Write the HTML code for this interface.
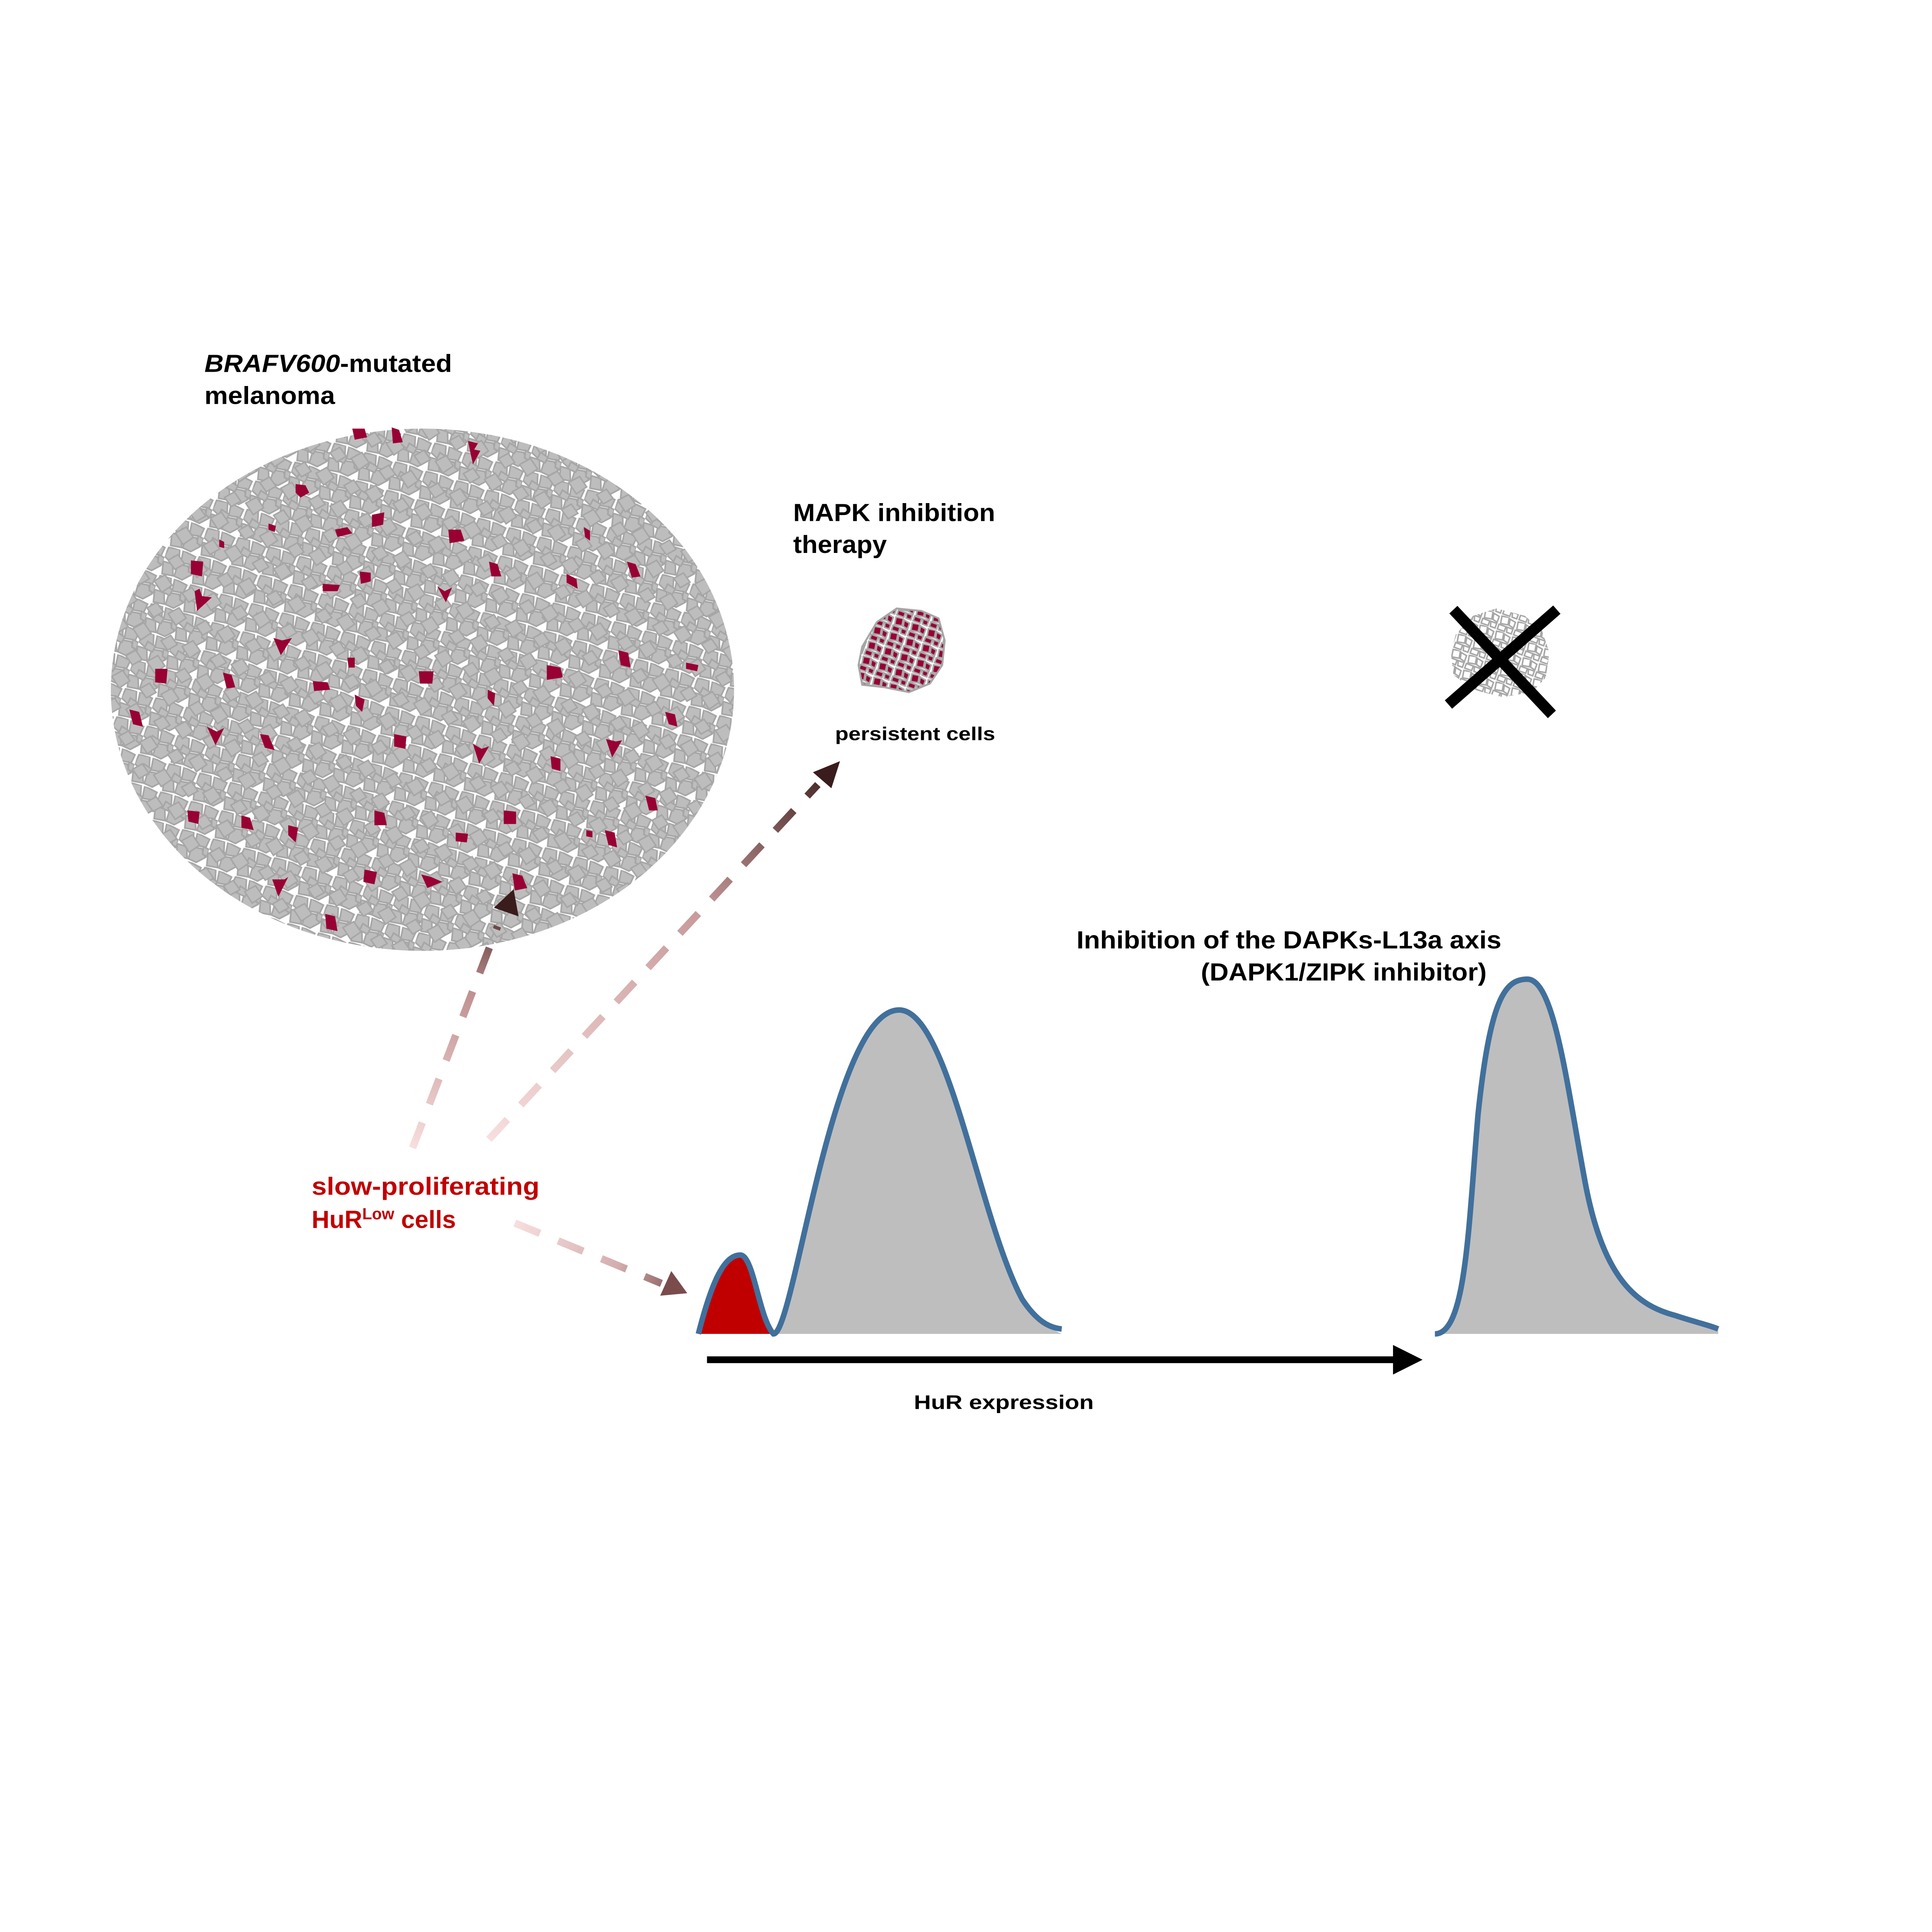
<!DOCTYPE html>
<html><head><meta charset="utf-8">
<style>html,body{margin:0;padding:0;background:#fff;overflow:hidden;width:5132px;height:5218px;}svg{display:block;}</style>
</head><body>
<svg width="5132" height="5218" viewBox="0 0 1610 1637" xmlns="http://www.w3.org/2000/svg" font-family="'Liberation Sans', Arial, sans-serif">
<defs>
<pattern id="cells" width="26" height="24" patternUnits="userSpaceOnUse" patternTransform="rotate(17)">
<rect width="26" height="24" fill="#fff"/>
<g fill="#bdbdbd" stroke="#a6a6a6" stroke-width="1.3">
<polygon points="1,1 10,0 12,8 6,12 0,9"/>
<polygon points="13,0 24,2 23,9 14,10"/>
<polygon points="0,13 8,13 11,22 2,23"/>
<polygon points="12,12 20,11 25,17 19,23 12,22"/>
<polygon points="7,7 14,9 13,14 6,13"/>
<polygon points="21,9 26,10 26,16 22,15"/>
</g>
</pattern>
<pattern id="cells2" width="31" height="29" patternUnits="userSpaceOnUse" x="7" y="5" patternTransform="rotate(-23)">
<g fill="#bdbdbd" stroke="#a6a6a6" stroke-width="1.2">
<polygon points="3,3 12,2 14,11 5,12"/>
<polygon points="17,14 27,13 29,23 19,25"/>
</g>
</pattern>
<clipPath id="ell"><ellipse cx="343" cy="560" rx="253" ry="212"/></clipPath>
<pattern id="pcells" width="14" height="13" patternUnits="userSpaceOnUse" patternTransform="rotate(20)">
<rect width="14" height="13" fill="#fff"/>
<g fill="#990033" stroke="#a6a6a6" stroke-width="1.3">
<polygon points="1,1 7,0 8,6 2,7"/>
<polygon points="8,1 13,2 13,7 9,6"/>
<polygon points="1,8 7,8 7,12 1,12"/>
<polygon points="8,8 13,8 13,12 9,12"/>
</g>
</pattern>
<pattern id="ocells" width="14" height="13" patternUnits="userSpaceOnUse" patternTransform="rotate(20)">
<g fill="none" stroke="#a6a6a6" stroke-width="1.2">
<polygon points="1,1 7,0 8,6 2,7"/>
<polygon points="8,1 13,2 13,7 9,6"/>
<polygon points="1,8 7,8 7,12 1,12"/>
<polygon points="8,8 13,8 13,12 9,12"/>
</g>
</pattern>
<linearGradient id="g1" gradientUnits="userSpaceOnUse" x1="335" y1="932" x2="417" y2="722"><stop offset="0" stop-color="#f8dede"/><stop offset="0.6" stop-color="#c09090"/><stop offset="1" stop-color="#3a1c1c"/></linearGradient>
<linearGradient id="g2" gradientUnits="userSpaceOnUse" x1="397" y1="925" x2="682" y2="618"><stop offset="0" stop-color="#f8dede"/><stop offset="0.6" stop-color="#c89a9a"/><stop offset="1" stop-color="#3a1c1c"/></linearGradient>
<linearGradient id="g3" gradientUnits="userSpaceOnUse" x1="418" y1="993" x2="558" y2="1050"><stop offset="0" stop-color="#f8dede"/><stop offset="0.6" stop-color="#d4aeae"/><stop offset="1" stop-color="#7a4c4c"/></linearGradient>
</defs>
<rect width="1610" height="1637" fill="#fff"/>

<text x="166" y="302" font-size="20" font-weight="bold" textLength="201" lengthAdjust="spacingAndGlyphs"><tspan font-style="italic">BRAFV600</tspan>-mutated</text>
<text x="166" y="328" font-size="20" font-weight="bold" textLength="106" lengthAdjust="spacingAndGlyphs">melanoma</text>

<g clip-path="url(#ell)">
<rect x="80" y="340" width="530" height="440" fill="url(#cells)"/>
<rect x="80" y="340" width="530" height="440" fill="url(#cells2)"/>
</g>
<g fill="#990033">
<path d="M286,348 l10,0 l2,7 l-10,2z"/><path d="M318,347 l6,2 l3,10 l-8,1z"/><path d="M380,358 l8,2 l-3,5 l5,1 l-6,11 l-2,-9z"/>
<path d="M240,393 l8,1 l3,6 l-7,4 l-4,-4z"/><path d="M302,418 l10,-2 l-1,10 l-9,2z"/><path d="M272,430 l10,-2 l4,5 l-12,3z"/>
<path d="M364,430 l10,0 l3,9 l-12,2z"/><path d="M155,455 l10,1 l-1,12 l-9,-2z"/><path d="M397,456 l7,2 l3,10 l-8,0z"/>
<path d="M292,464 l9,1 l0,7 l-8,2z"/><path d="M158,480 l4,-2 l2,6 l8,1 l-12,11z"/><path d="M355,476 l6,4 l6,-3 l-5,12z"/>
<path d="M262,474 l14,1 l-2,5 l-12,0z"/><path d="M460,466 l8,4 l1,8 l-9,-5z"/><path d="M509,456 l7,2 l4,10 l-7,1z"/>
<path d="M474,428 l5,3 l0,8 l-4,-3z"/><path d="M222,518 l7,2 l8,-2 l-9,14z"/><path d="M282,534 l6,0 l0,8 l-5,0z"/>
<path d="M340,545 l12,0 l-1,10 l-10,0z"/><path d="M444,540 l11,2 l2,8 l-13,2z"/><path d="M502,528 l8,2 l2,12 l-8,-2z"/>
<path d="M557,538 l10,2 l-1,5 l-9,-2z"/><path d="M126,543 l10,0 l-1,12 l-9,-1z"/><path d="M181,546 l7,2 l3,10 l-7,1z"/>
<path d="M254,553 l12,1 l2,6 l-13,1z"/><path d="M396,560 l6,3 l-1,10 l-5,-6z"/><path d="M288,564 l8,4 l-2,10 l-5,-5z"/>
<path d="M540,578 l8,2 l2,10 l-7,-2z"/><path d="M105,576 l8,2 l3,12 l-8,-2z"/><path d="M168,590 l8,4 l6,-3 l-7,14z"/>
<path d="M211,596 l7,1 l5,12 l-8,-2z"/><path d="M320,596 l10,2 l-1,10 l-9,-2z"/><path d="M384,604 l7,4 l6,-2 l-8,14z"/>
<path d="M492,600 l8,2 l5,-1 l-8,14z"/><path d="M447,614 l8,2 l0,10 l-7,-2z"/><path d="M152,658 l10,1 l-1,10 l-8,-2z"/>
<path d="M196,662 l7,2 l3,10 l-10,-2z"/><path d="M234,670 l8,2 l-2,12 l-6,-6z"/><path d="M304,658 l8,2 l2,10 l-10,0z"/>
<path d="M409,658 l10,1 l0,10 l-10,0z"/><path d="M524,646 l8,2 l2,10 l-7,0z"/><path d="M370,676 l10,1 l-1,7 l-9,-1z"/>
<path d="M491,674 l8,2 l2,12 l-7,-2z"/><path d="M476,674 l5,1 l0,5 l-5,-1z"/><path d="M221,714 l10,0 l3,-2 l-8,16z"/>
<path d="M296,706 l10,2 l-2,10 l-9,-2z"/><path d="M342,710 l8,2 l9,4 l-12,5z"/><path d="M416,709 l8,2 l4,10 l-10,2z"/>
<path d="M264,742 l8,2 l2,12 l-9,-2z"/><path d="M178,438 l4,2 l0,5 l-4,-1z"/><path d="M218,425 l6,2 l-1,5 l-5,-2z"/>
</g>

<text x="644" y="423" font-size="20" font-weight="bold" textLength="164" lengthAdjust="spacingAndGlyphs">MAPK inhibition</text>
<text x="644" y="449" font-size="20" font-weight="bold" textLength="76" lengthAdjust="spacingAndGlyphs">therapy</text>
<path d="M700,525 L712,505 L728,494 L748,496 L762,502 L767,520 L765,540 L755,555 L738,562 L718,558 L700,556 L697,540z" fill="url(#pcells)" stroke="#a6a6a6" stroke-width="1.5"/>
<text x="678" y="601" font-size="15" font-weight="bold" textLength="130" lengthAdjust="spacingAndGlyphs">persistent cells</text>

<path d="M1182,515 L1196,500 L1215,494 L1238,500 L1252,512 L1258,530 L1255,550 L1244,562 L1220,566 L1196,560 L1180,548 L1178,530z" fill="url(#ocells)"/>
<line x1="1180" y1="495" x2="1260" y2="580" stroke="#000" stroke-width="9"/>
<line x1="1264" y1="495" x2="1176" y2="572" stroke="#000" stroke-width="9"/>

<text x="874" y="770" font-size="20" font-weight="bold" textLength="345" lengthAdjust="spacingAndGlyphs">Inhibition of the DAPKs-L13a axis</text>
<text x="975" y="796" font-size="20" font-weight="bold" textLength="232" lengthAdjust="spacingAndGlyphs">(DAPK1/ZIPK inhibitor)</text>

<text x="253" y="970" font-size="20" font-weight="bold" fill="#c00000" textLength="185" lengthAdjust="spacingAndGlyphs">slow-proliferating</text>
<text x="253" y="997" font-size="20" font-weight="bold" fill="#c00000">HuR<tspan font-size="13" dy="-7">Low</tspan><tspan dy="7"> cells</tspan></text>

<line x1="335" y1="932" x2="404" y2="752" stroke="url(#g1)" stroke-width="6" stroke-dasharray="22,16"/>
<polygon points="417,722 421,744 401,737" fill="#3a1c1c"/>
<line x1="397" y1="925" x2="664" y2="637" stroke="url(#g2)" stroke-width="6" stroke-dasharray="22,16"/>
<polygon points="682,618 675,640 660,627" fill="#3a1c1c"/>
<line x1="418" y1="993" x2="537" y2="1042" stroke="url(#g3)" stroke-width="6" stroke-dasharray="22,16"/>
<polygon points="558,1050 536,1052 545,1032" fill="#7a4c4c"/>

<path d="M567,1083 C578,1040 588,1019 601,1019 C612,1019 616,1070 628,1083 Z" fill="#c00000"/>
<path d="M628,1083 C645,1083 675,820 730,820 C770,820 795,990 830,1055 C842,1073 852,1078 862,1083 Z" fill="#bebebe"/>
<path d="M567,1083 C578,1040 588,1019 601,1019 C612,1019 616,1070 628,1083 C645,1083 675,820 730,820 C770,820 795,990 830,1055 C842,1073 852,1078 862,1079" fill="none" stroke="#41709c" stroke-width="4.5"/>
<path d="M1165,1083 C1190,1083 1192,1000 1200,905 C1210,810 1222,795 1240,795 C1262,795 1272,880 1287,960 C1302,1040 1330,1060 1360,1068 C1375,1073 1388,1076 1395,1079 L1395,1083 Z" fill="#bebebe"/>
<path d="M1165,1083 C1190,1083 1192,1000 1200,905 C1210,810 1222,795 1240,795 C1262,795 1272,880 1287,960 C1302,1040 1330,1060 1360,1068 C1375,1073 1388,1076 1395,1079" fill="none" stroke="#41709c" stroke-width="4.5"/>

<line x1="574" y1="1104" x2="1135" y2="1104" stroke="#000" stroke-width="5.5"/>
<polygon points="1155,1104 1131,1092 1131,1116" fill="#000"/>
<text x="742" y="1144" font-size="16" font-weight="bold" textLength="146" lengthAdjust="spacingAndGlyphs">HuR expression</text>
</svg>
</body></html>
